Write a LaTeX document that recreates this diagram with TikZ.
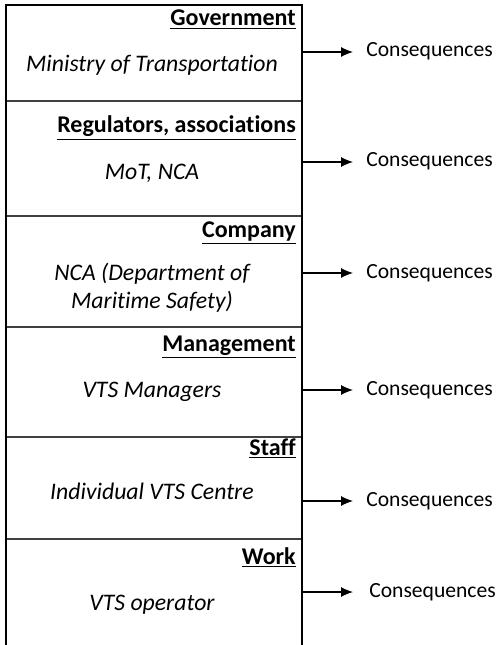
\documentclass[tikz,border=0pt]{standalone}
\usepackage{fontspec}
\setmainfont{Carlito}[Ligatures=NoCommon]
\usepackage{tikz}
\usetikzlibrary{arrows.meta}
\tikzset{basic/.style={inner sep=0pt,font=\fontsize{16}{21}\selectfont}}

\begin{document}
\begin{tikzpicture}[x=0.75pt,y=-0.75pt,>={Latex[length=9pt,width=7.5pt]},
    % styles for clarity
    title/.style  ={basic, anchor=base east, font=\fontsize{18}{21}\selectfont\bfseries},
    actor/.style  ={basic, anchor=base, align=center, font=\fontsize{17.8}{21}\selectfont\itshape},
    conseq/.style ={basic, anchor=base west, font=\fontsize{16.2}{21}\selectfont},
    frame/.style  ={line width=1.3pt},
    divider/.style={line width=0.8pt, black!75},
    link/.style   ={->, line width=0.8pt}
  ]
    \useasboundingbox (0,0) rectangle (497,645);

    % layers
    \draw[divider] (6,101) -- (302,101);
    \draw[divider] (6,216) -- (302,216);
    \draw[divider] (6,327) -- (302,327);
    \draw[divider] (6,437) -- (302,437);
    \draw[divider] (6,539) -- (302,539);
    \draw[frame] (6,645) -- (6,5) -- (302,5) -- (302,645);

    \node[title](gov) at (296,26) {\underline{Government}};
    \node[title](reg) at (296,133) {\underline{Regulators, associations}};
    \node[title](com) at (296,238) {\underline{Company}};
    \node[title](man) at (296,351) {\underline{Management}};
    \node[title](sta) at (296,455) {\underline{Staff}};
    \node[title](wor) at (296,564) {\underline{Work}};

    \node[actor](mot) at (152,72) {Ministry of Transportation};
    \node[actor](nca) at (152,180) {MoT, NCA};
    \node[actor](dms) at (152,308) {NCA (Department of\\Maritime Safety)};
    \node[actor](vtm) at (152,397) {VTS Managers};
    \node[actor](vtc) at (152,499) {Individual VTS Centre};
    \node[actor](vto) at (152,610) {VTS operator};

    % consequences
    \coordinate (s1) at (302,52);
    \coordinate (s2) at (302,162);
    \coordinate (s3) at (302,273);
    \coordinate (s4) at (302,390);
    \coordinate (s5) at (302,501);
    \coordinate (s6) at (302,592);
    \node[conseq](c1) at (366,57) {Consequences};
    \node[conseq](c2) at (366,167) {Consequences};
    \node[conseq](c3) at (366,278) {Consequences};
    \node[conseq](c4) at (366,395) {Consequences};
    \node[conseq](c5) at (366,506) {Consequences};
    \node[conseq](c6) at (369,597) {Consequences};

    \draw[link] (s1) -- ([xshift=-13*0.75pt]c1.west |- s1);
    \draw[link] (s2) -- ([xshift=-13*0.75pt]c2.west |- s2);
    \draw[link] (s3) -- ([xshift=-13*0.75pt]c3.west |- s3);
    \draw[link] (s4) -- ([xshift=-13*0.75pt]c4.west |- s4);
    \draw[link] (s5) -- ([xshift=-13*0.75pt]c5.west |- s5);
    \draw[link] (s6) -- ([xshift=-16*0.75pt]c6.west |- s6);
  \end{tikzpicture}
\end{document}
